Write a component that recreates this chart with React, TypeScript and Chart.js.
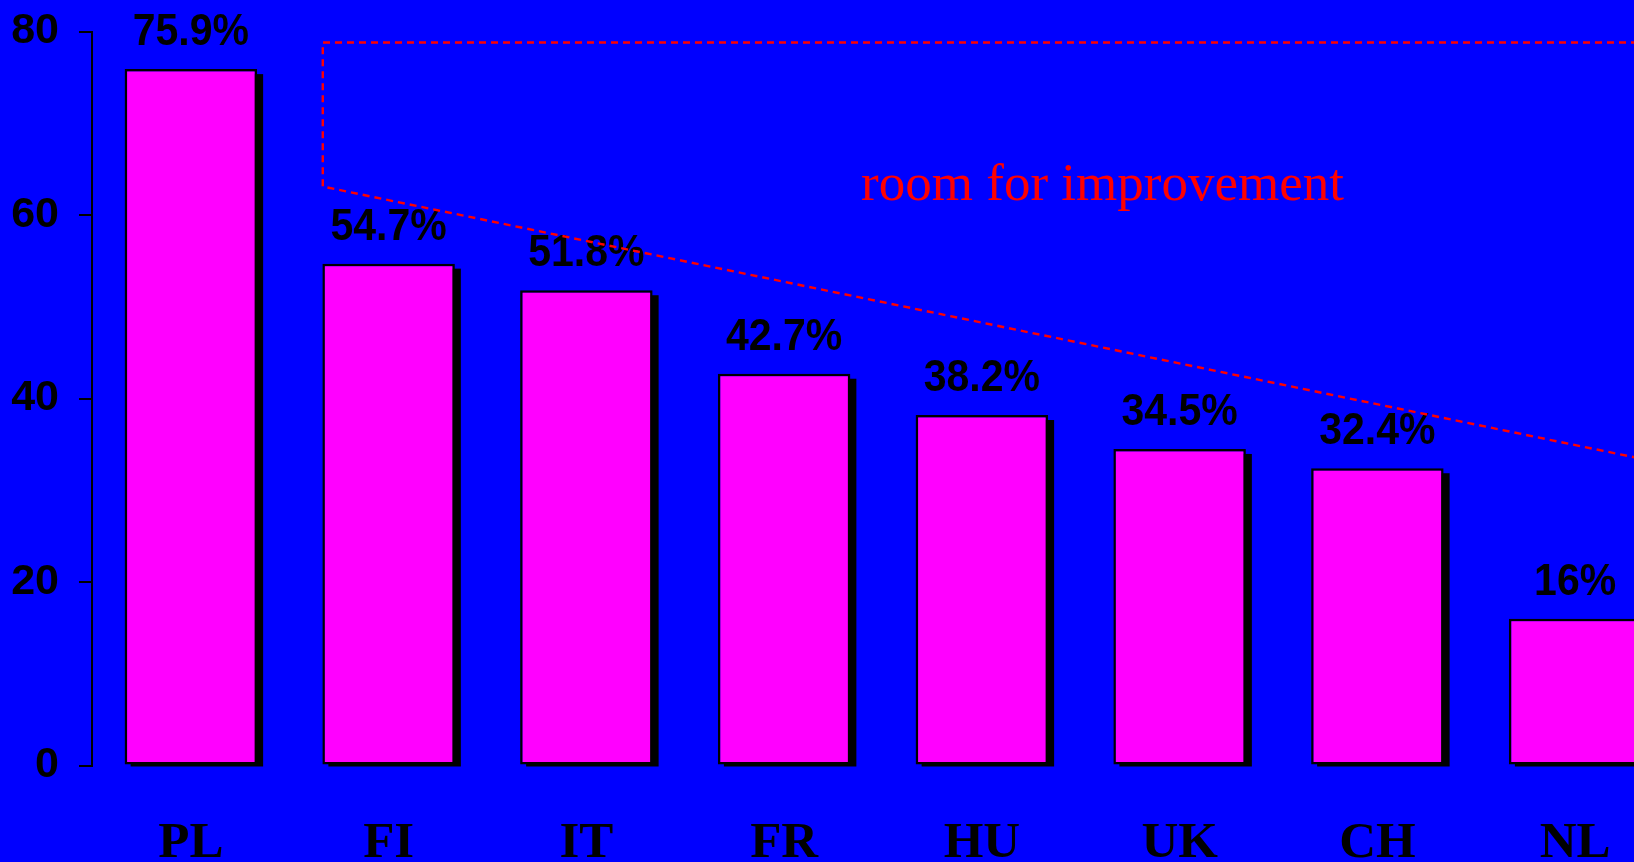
import React, { useEffect, useRef } from "react";
import { Chart, registerables } from "chart.js";

Chart.register(...registerables);

const categories = ["PL", "FI", "IT", "FR", "HU", "UK", "CH", "NL"];
const values = [75.9, 54.7, 51.8, 42.7, 38.2, 34.5, 32.4, 16];
const yTicks = [0, 20, 40, 60, 80];

// "room for improvement" dashed outline, in (category index, value) units
const boxX = [7.5, 0.667, 0.667, 7.5];
const boxY = [78.8, 78.8, 63.1, 32.7];
const noteText = "room for improvement";
const noteX = 4.61;
const noteY = 61.6;

const BLUE = "#0000ff";
const MAGENTA = "#ff00ff";

const shadowPlugin = {
  id: "barShadow",
  beforeDatasetsDraw(chart: any) {
    const ctx = chart.ctx;
    const meta = chart.getDatasetMeta(0);
    ctx.save();
    ctx.fillStyle = "#000000";
    meta.data.forEach((bar: any) => {
      const w = bar.width;
      const left = bar.x - w / 2 + 6;
      const top = bar.y + 5;
      const bottom = bar.base + 2;
      ctx.fillRect(left, top, w, bottom - top);
    });
    ctx.restore();
  },
};

const overlayPlugin = {
  id: "overlay",
  afterDatasetsDraw(chart: any) {
    const ctx = chart.ctx;
    const xs = chart.scales.x;
    const ys = chart.scales.y;
    const meta = chart.getDatasetMeta(0);
    ctx.save();
    // value labels
    ctx.fillStyle = "#000000";
    ctx.font = "bold 41px 'Liberation Sans', Arial, sans-serif";
    ctx.textAlign = "center";
    ctx.textBaseline = "alphabetic";
    meta.data.forEach((bar: any, i: number) => {
      ctx.save();
      ctx.translate(bar.x, bar.y - 24);
      ctx.scale(1, 1.07);
      ctx.fillText(String(values[i]) + "%", 0, 0);
      ctx.restore();
    });
    // dashed outline
    ctx.strokeStyle = "#ff0000";
    ctx.lineWidth = 2.4;
    ctx.setLineDash([7, 5]);
    ctx.beginPath();
    boxX.forEach((bx, i) => {
      const px = xs.getPixelForValue(bx);
      const py = ys.getPixelForValue(boxY[i]);
      if (i === 0) ctx.moveTo(px, py);
      else ctx.lineTo(px, py);
    });
    ctx.stroke();
    ctx.setLineDash([]);
    // note text
    ctx.fillStyle = "#ff0000";
    ctx.font = "53px 'Liberation Serif', 'Times New Roman', serif";
    ctx.textAlign = "center";
    ctx.textBaseline = "alphabetic";
    ctx.fillText(noteText, xs.getPixelForValue(noteX), ys.getPixelForValue(noteY));
    ctx.restore();
  },
};

export default function App() {
  const ref = useRef<HTMLCanvasElement | null>(null);

  useEffect(() => {
    if (!ref.current) return;
    const chart = new Chart(ref.current, {
      type: "bar",
      data: {
        labels: categories,
        datasets: [
          {
            data: values,
            backgroundColor: MAGENTA,
            borderColor: "#000000",
            borderWidth: 2.5,
            borderSkipped: false,
            barPercentage: 0.67,
            categoryPercentage: 1,
          },
        ],
      },
      options: {
        responsive: false,
        animation: false,
        layout: { padding: { top: 31.5, left: 0, right: 0, bottom: 0 } },
        plugins: {
          legend: { display: false },
          tooltip: { enabled: false },
        },
        scales: {
          x: {
            offset: true,
            grid: { display: false },
            border: { display: false },
            ticks: {
              color: "#000000",
              padding: 39.5,
              font: { family: "'Liberation Serif', 'Times New Roman', serif", weight: "bold", size: 51 },
            },
            afterFit(scale: any) {
              scale.height = 96.5;
              scale.paddingLeft = 0;
              scale.paddingRight = 0;
            },
          },
          y: {
            min: 0,
            max: 80,
            afterBuildTicks(scale: any) {
              scale.ticks = yTicks.map((v) => ({ value: v }));
            },
            grid: {
              drawOnChartArea: false,
              drawTicks: true,
              tickLength: 13,
              color: "#000000",
              lineWidth: 2,
            },
            border: { display: true, color: "#000000", width: 2 },
            ticks: {
              color: "#000000",
              padding: 20,
              font: { family: "'Liberation Sans', Arial, sans-serif", weight: "bold", size: 43 },
            },
            afterFit(scale: any) {
              scale.width = 92;
              scale.paddingTop = 0;
              scale.paddingBottom = 0;
            },
          },
        },
      },
      plugins: [shadowPlugin, overlayPlugin],
    });
    return () => chart.destroy();
  }, []);

  return (
    <div
      style={{
        position: "fixed",
        left: 0,
        top: 0,
        width: "100vw",
        height: "100vh",
        overflow: "hidden",
        background: BLUE,
      }}
    >
      <canvas
        ref={ref}
        width={1674}
        height={862}
        style={{ display: "block", width: "1674px", height: "862px" }}
      />
    </div>
  );
}
